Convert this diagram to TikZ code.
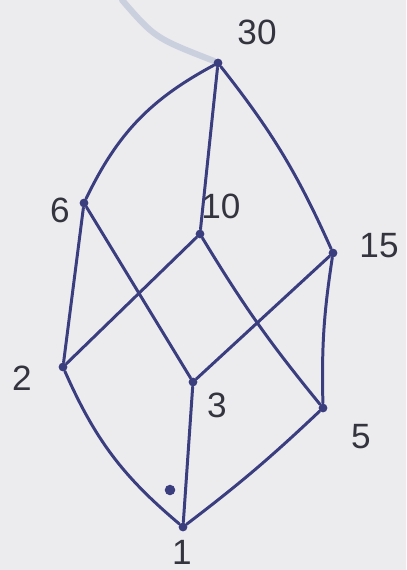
\documentclass[tikz,border=0pt]{standalone}
\usepackage{fontspec}
\setmainfont{Liberation Sans}
\definecolor{ink}{HTML}{3B3E7E}
\definecolor{pencil}{HTML}{34343F}
\definecolor{paper}{HTML}{ECECEF}
\definecolor{smudge}{HTML}{A3AECB}

\begin{document}
\begin{tikzpicture}[x=0.02cm,y=-0.02cm,
  pt/.style={circle,fill=ink,inner sep=0pt,minimum size=5pt},
  num/.style={text=pencil,font=\fontsize{20}{24}\selectfont},
  edge/.style={draw=ink,line width=1.7pt,line cap=round}]
\fill[paper] (0,0) rectangle (406,570);
\useasboundingbox (0,0) rectangle (406,570);
\draw[smudge,line width=3.5pt,line cap=round,opacity=0.45] (122,0) .. controls (155,38) .. (214,61);
\node[pt] (n30) at (218,63) {};
\node[pt] (n6)  at (84,203) {};
\node[pt] (n10) at (200,234) {};
\node[pt] (n15) at (333,253) {};
\node[pt] (n2)  at (63,367) {};
\node[pt] (n3)  at (193,382) {};
\node[pt] (n5)  at (323,408) {};
\node[pt] (n1)  at (183,527) {};
\node[circle,fill=ink,inner sep=0pt,minimum size=6pt] (spot) at (170,490) {};
\node[num] (l30) at (257,32) {30};
\node[num] (l6)  at (60,210) {6};
\node[num] (l10) at (221,206) {10};
\node[num] (l15) at (379,246) {15};
\node[num] (l2)  at (22,378) {2};
\node[num] (l3)  at (217,405) {3};
\node[num] (l5)  at (361,437) {5};
\node[num] (l1)  at (182,552) {1};
\draw[edge] (n30) to[bend right=18] (n6);
\draw[edge] (n30) -- (n10);
\draw[edge] (n30) to[bend left=7] (n15);
\draw[edge] (n6) -- (n2);
\draw[edge] (n6) -- (n3);
\draw[edge] (n10) -- (n2);
\draw[edge] (n10) to[bend right=4] (n5);
\draw[edge] (n15) -- (n3);
\draw[edge] (n15) to[bend right=5] (n5);
\draw[edge] (n2) to[bend right=13] (n1);
\draw[edge] (n3) -- (n1);
\draw[edge] (n5) to[bend left=3] (n1);
\end{tikzpicture}
\end{document}
